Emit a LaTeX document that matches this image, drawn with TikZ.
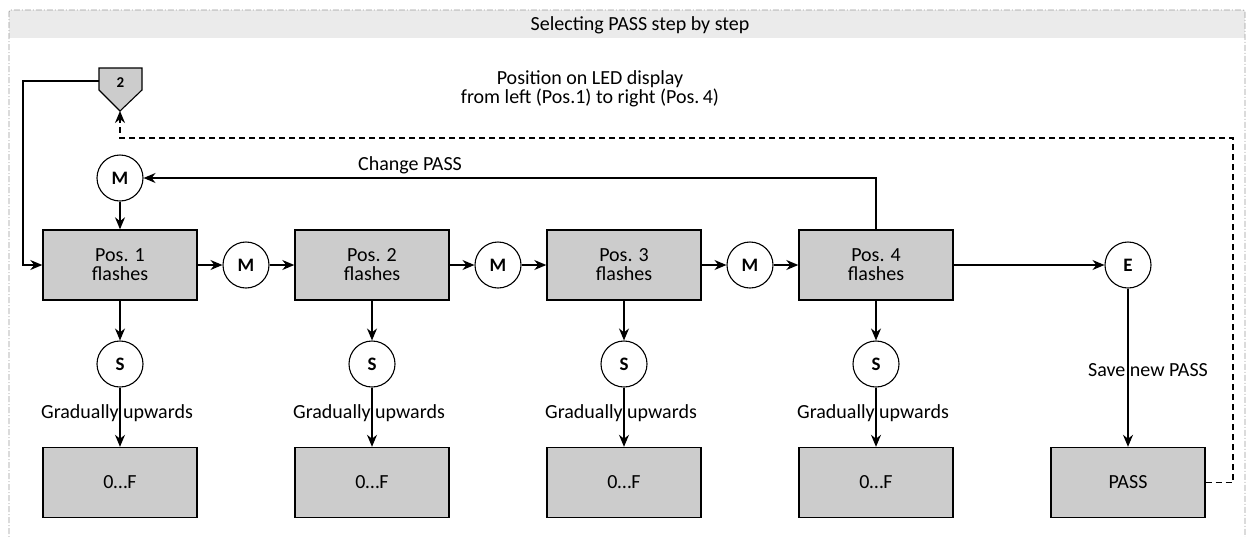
\documentclass[tikz,border=0pt]{standalone}
\usepackage{fontspec}
\setmainfont{Carlito}
\usetikzlibrary{arrows.meta}
\definecolor{boxgray}{HTML}{CCCCCC}
\definecolor{headgray}{HTML}{EBEBEB}
\definecolor{framegray}{HTML}{9A9A9A}
\begin{document}
\begin{tikzpicture}[x=1pt,y=-1pt,
  every node/.style={font=\fontsize{20}{19}\selectfont},
  posbox/.style={draw,line width=1.4pt,fill=boxgray,minimum width=154pt,minimum height=70pt,align=center,inner sep=0pt},
  keyc/.style={draw,circle,line width=1.1pt,fill=white,minimum size=46pt,inner sep=0pt,font=\fontsize{19}{19}\selectfont\bfseries},
  conn/.style={line width=1.3pt,-{Stealth[length=12pt,width=10pt]}},
  dashconn/.style={line width=1.3pt,dash pattern=on 6pt off 4pt},
  lbl/.style={inner sep=1pt}
]
\useasboundingbox (0,0) rectangle (1247,536);
% frame and header
\fill[headgray] (9,10) rectangle (1245,38);
\draw[framegray,line width=0.8pt,dash pattern=on 6pt off 2pt on 1pt off 2pt,rounded corners=2pt] (9,545) -- (9,10) -- (1245,10) -- (1245,545);
\node (title) at (640,25) {Selecting PASS step by step};

% pentagon
\draw[line width=1.1pt,fill=boxgray] (99,68) -- (142,68) -- (142,90) -- (120,111) -- (99,90) -- cycle;
\node[font=\fontsize{15}{15}\selectfont\bfseries] (p2) at (120.5,83) {2};
\coordinate (p2tip) at (120,111);
\coordinate (p2left) at (99,81);

\node[align=center] (pos) at (590,89) {Position on LED display\\from left (Pos.1) to right (Pos.\,4)};

% top M
\node[keyc] (mt) at (120,178) {M};

% position boxes
\node[posbox] (b1) at (120,265) {Pos. 1\\flashes};
\node[posbox] (b2) at (372,265) {Pos. 2\\flashes};
\node[posbox] (b3) at (624,265) {Pos. 3\\flashes};
\node[posbox] (b4) at (876,265) {Pos. 4\\flashes};

\node[keyc] (m1) at (246,265) {M};
\node[keyc] (m2) at (498,265) {M};
\node[keyc] (m3) at (750,265) {M};
\node[keyc] (e) at (1128,265) {E};

% S circles and value boxes
\foreach \i/\x in {1/120,2/372,3/624,4/876}{
  \node[keyc] (s\i) at (\x,364) {S};
  \node[posbox] (v\i) at (\x,482.5) {0…F};
  \draw[conn] (b\i) -- (s\i);
  \draw[conn] (s\i) -- (v\i);
  \node[lbl] (g\i) at (\x-3,413) {Gradually upwards};
}
\node[posbox] (pass) at (1128,482.5) {PASS};

% horizontal flow
\draw[conn] (b1) -- (m1);
\draw[conn] (m1) -- (b2);
\draw[conn] (b2) -- (m2);
\draw[conn] (m2) -- (b3);
\draw[conn] (b3) -- (m3);
\draw[conn] (m3) -- (b4);
\draw[conn] (b4) -- (e);
\draw[conn] (e) -- (pass);
\node[lbl] (save) at (1148,370) {Save new PASS};

% change PASS loop
\draw[conn] (b4.north) |- (mt.east);
\node[lbl] (chg) at (410,165) {Change PASS};
\draw[conn] (mt) -- (b1);

% pentagon to Pos.1
\draw[conn] (p2left) -- (23,81) |- (b1.west);

% dashed return
\draw[dashconn,-{Stealth[length=12pt,width=10pt]}] (pass.east) -- (1233,482.5) -- (1233,138) -- (120,138) -- (p2tip);
\end{tikzpicture}
\end{document}
